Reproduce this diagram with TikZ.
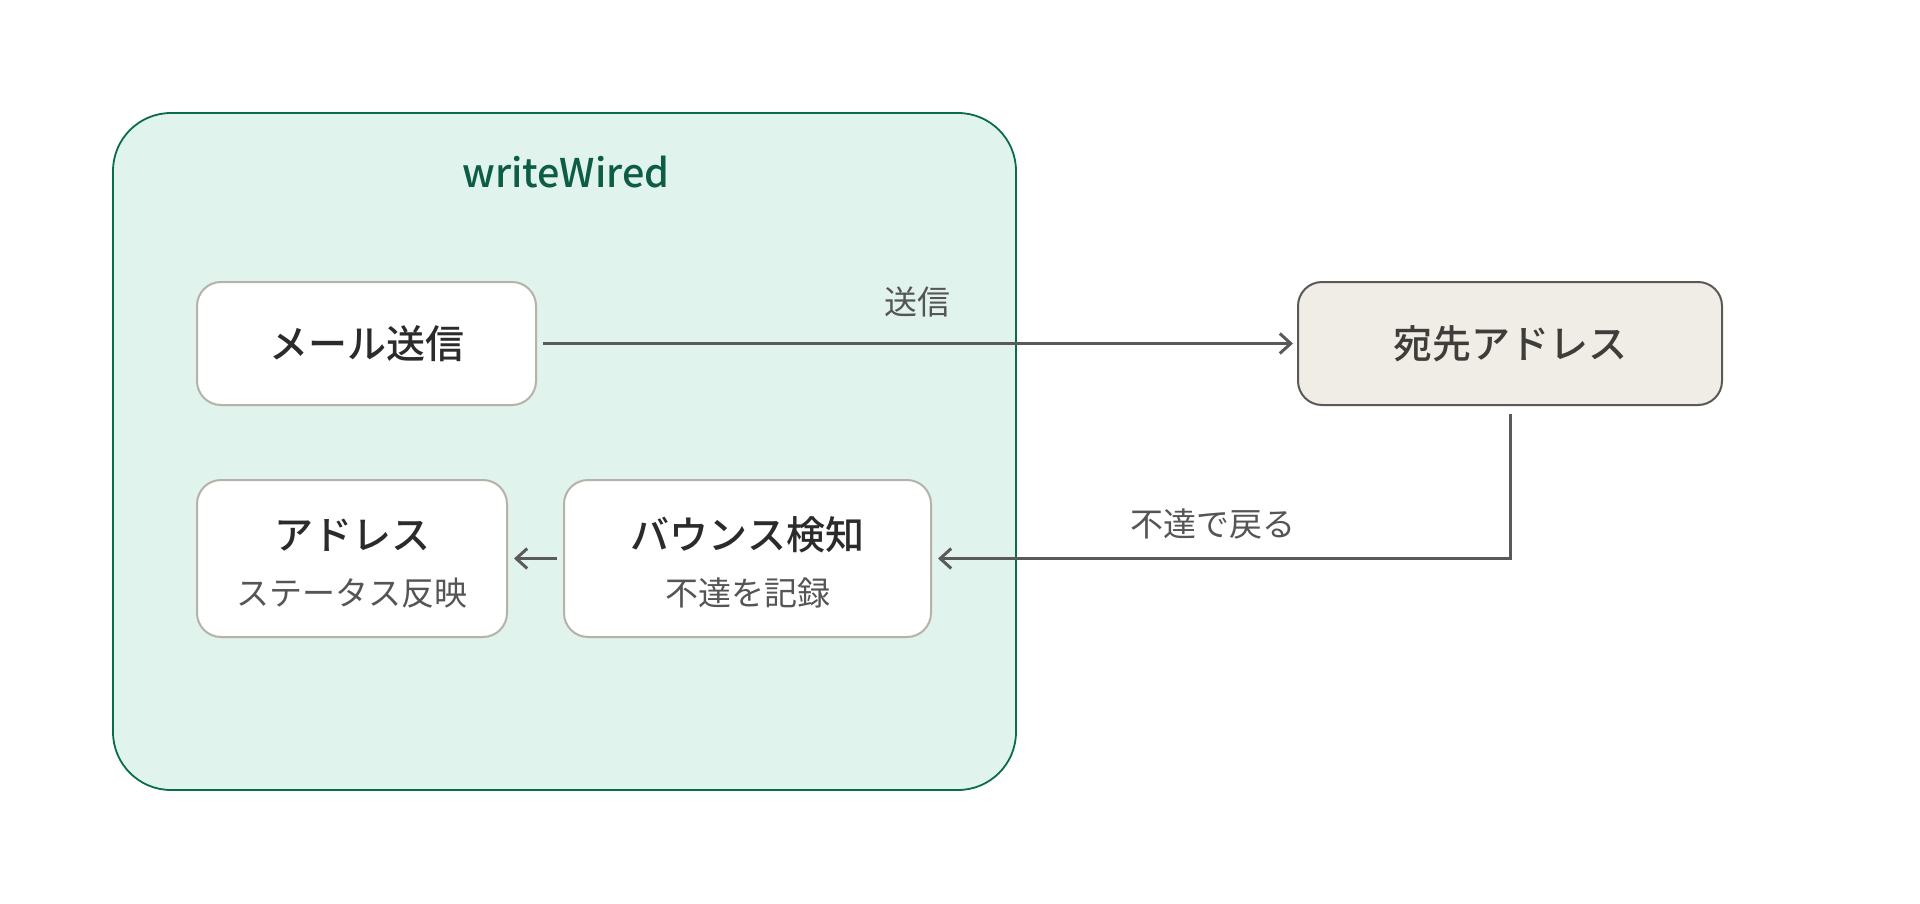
\documentclass[tikz,border=0pt]{standalone}
\usepackage{fontspec}
\setmainfont{Noto Sans CJK JP}
\newfontfamily\jpmed{Noto Sans CJK JP Medium}
\usetikzlibrary{arrows.meta}
\definecolor{contfill}{HTML}{E0F3EC}
\definecolor{contdraw}{HTML}{0B6B4F}
\definecolor{conttext}{HTML}{0D5C46}
\definecolor{boxdraw}{HTML}{B5B2AA}
\definecolor{destfill}{HTML}{F0EDE6}
\definecolor{destdraw}{HTML}{5A5955}
\definecolor{desttext}{HTML}{3E3D3A}
\definecolor{arrowc}{HTML}{5A5A58}
\definecolor{titletext}{HTML}{2B2B2B}
\definecolor{subtext}{HTML}{555555}
\tikzset{
  container/.style={draw=contdraw, fill=contfill, line width=1.8pt, rounded corners=58pt},
  boxw/.style={draw=boxdraw, fill=white, line width=2pt, rounded corners=24pt, inner sep=0pt},
  boxd/.style={draw=destdraw, fill=destfill, line width=2pt, rounded corners=24pt, inner sep=0pt},
  ttl/.style={font=\fontsize{39}{44}\selectfont\jpmed, text=titletext},
  sub/.style={font=\fontsize{33}{38}\selectfont, text=subtext},
  lbl/.style={font=\fontsize{33}{38}\selectfont, text=subtext},
  conn/.style={draw=arrowc, line width=3pt, -{Straight Barb[length=11pt,width=20pt,line width=3pt]}},
}
\begin{document}
\begin{tikzpicture}[x=1pt,y=-1pt]
\useasboundingbox (0,0) rectangle (1920,904);
\fill[white] (0,0) rectangle (1920,904);
\draw[container] (113,113) rectangle (1016,790);
\node[font=\fontsize{39.5}{44}\selectfont\jpmed, text=conttext] (cont) at (566,172) {writeWired};

\node[boxw, minimum width=339pt, minimum height=123pt] (mail) at (366.5,343.5) {};
\node[ttl] at (mail.center) {メール送信};

\node[boxd, minimum width=424pt, minimum height=123pt] (dest) at (1510,343.5) {};
\node[ttl, text=desttext] at (dest.center) {宛先アドレス};

\node[boxw, minimum width=310pt, minimum height=157pt] (addr) at (352,558.5) {};
\node[ttl] at (352,535) {アドレス};
\node[sub] at (352,593) {ステータス反映};

\node[boxw, minimum width=367pt, minimum height=157pt] (bounce) at (747.5,558.5) {};
\node[ttl] at (747.5,535) {バウンス検知};
\node[sub] at (747.5,593) {不達を記録};

\draw[conn, shorten <=6pt, shorten >=4pt] (mail.east) -- (dest.west);
\node[lbl] (lsend) at (917,302) {送信};

\draw[conn, shorten <=8pt, shorten >=6pt] (dest.south) -- (1510,558.5) -- (bounce.east);
\node[lbl] (lback) at (1213,524) {不達で戻る};

\draw[conn, shorten <=6pt, shorten >=6pt] (bounce.west) -- (addr.east);
\end{tikzpicture}
\end{document}
